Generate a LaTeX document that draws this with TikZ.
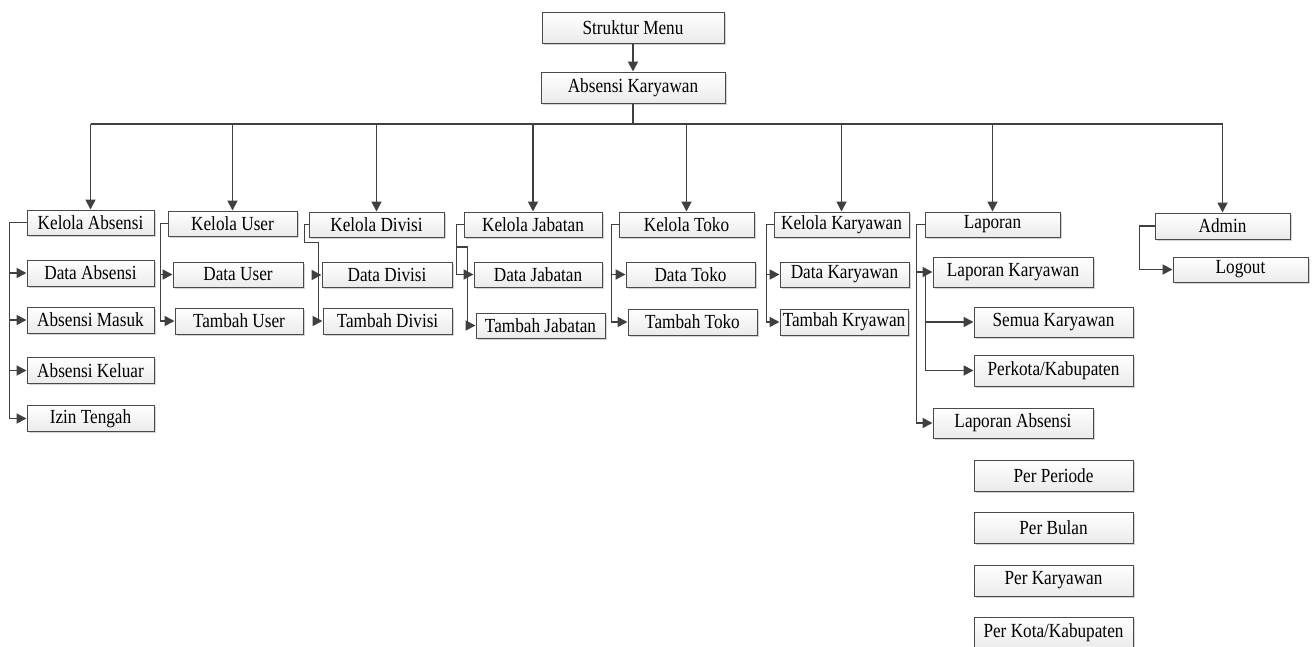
\documentclass[tikz,border=0pt]{standalone}
\usepackage{fontspec}
\setmainfont[FakeStretch=0.86]{Liberation Serif}
\usetikzlibrary{arrows.meta,shadows}
\definecolor{ln}{HTML}{404040}
\definecolor{bd}{HTML}{4a4a4a}
\tikzset{
  box/.style={draw=bd, line width=1pt, top color=white, bottom color=gray!16,
    drop shadow={shadow xshift=1.5pt, shadow yshift=-1.5pt, opacity=0.35},
    inner sep=0pt, minimum height=25pt, font=\fontsize{20}{23}\selectfont},
  conn/.style={draw=ln, line width=1.8pt},
  arr/.style={conn, -{Triangle[length=10pt,width=10pt]}},
}
\begin{document}
\begin{tikzpicture}[x=1pt,y=-1pt]
\useasboundingbox (0,0) rectangle (1315,646);
% top
\node[box, minimum width=182pt, minimum height=31pt] (st) at (633,27.5) {Struktur Menu};
\node[box, minimum width=184pt, minimum height=31pt] (ak) at (633,87.5) {Absensi Karyawan};
% level 1
\node[box, minimum width=127pt] (ka) at (90.5,222.5) {Kelola Absensi};
\node[box, minimum width=129pt] (ku) at (232.5,223.5) {Kelola User};
\node[box, minimum width=135pt] (kd) at (376.5,224.5) {Kelola Divisi};
\node[box, minimum width=138pt] (kj) at (533,224.5) {Kelola Jabatan};
\node[box, minimum width=135pt] (kt) at (686.5,224.5) {Kelola Toko};
\node[box, minimum width=135pt] (kk) at (841.5,224.5) {Kelola Karyawan};
\node[box, minimum width=135pt] (lp) at (992.5,224.5) {Laporan};
\node[box, minimum width=135pt, minimum height=26pt] (ad) at (1222.5,226) {Admin};
\node[box, minimum width=135pt] (lo) at (1240.5,269.5) {Logout};
% absensi children
\node[box, minimum width=127pt, minimum height=26pt] (da) at (90.5,273) {Data Absensi};
\node[box, minimum width=127pt, minimum height=26pt] (am) at (90.5,320) {Absensi Masuk};
\node[box, minimum width=127pt, minimum height=26pt] (akl) at (90.5,370.5) {Absensi Keluar};
\node[box, minimum width=127pt, minimum height=26pt] (it) at (90.5,418.5) {Izin Tengah};
% user
\node[box, minimum width=130pt] (du) at (238,274.5) {Data User};
\node[box, minimum width=128pt, minimum height=26pt] (tu) at (239,321) {Tambah User};
% divisi
\node[box, minimum width=130pt] (dd) at (387,275) {Data Divisi};
\node[box, minimum width=129pt, minimum height=26pt] (td) at (387.5,321) {Tambah Divisi};
% jabatan
\node[box, minimum width=128pt] (dj) at (538,274.5) {Data Jabatan};
\node[box, minimum width=129pt] (tj) at (540.5,325.5) {Tambah Jabatan};
% toko
\node[box, minimum width=129pt] (dt) at (690.5,274.5) {Data Toko};
\node[box, minimum width=129pt, minimum height=26pt] (tt) at (692.5,322) {Tambah Toko};
% karyawan
\node[box, minimum width=129pt] (dk) at (844.5,274.5) {Data Karyawan};
\node[box, minimum width=128pt, minimum height=26pt] (tk) at (844,322) {Tambah Kryawan};
% laporan
\node[box, minimum width=160pt, minimum height=30pt] (lk) at (1013,272) {Laporan Karyawan};
\node[box, minimum width=159pt, minimum height=30pt] (sk) at (1053.5,322) {Semua Karyawan};
\node[box, minimum width=159pt, minimum height=31pt] (pk) at (1053.5,370.5) {Perkota/Kabupaten};
\node[box, minimum width=160pt, minimum height=30pt] (la) at (1013,423) {Laporan Absensi};
\node[box, minimum width=159pt, minimum height=31pt] (pp) at (1053.5,475.5) {Per Periode};
\node[box, minimum width=159pt, minimum height=31pt] (pb) at (1053.5,527.5) {Per Bulan};
\node[box, minimum width=159pt, minimum height=31pt] (pkr) at (1053.5,580.5) {Per Karyawan};
\node[box, minimum width=159pt, minimum height=31pt] (pkk) at (1053.5,632.5) {Per Kota/Kabupaten};
% top connectors
\coordinate (bus) at (633,124);
\draw[arr] (st) -- (ak);
\draw[conn] (ak.south) -- (bus);
\draw[conn] (ka.north |- bus) -- (ad.north |- bus);
\foreach \n in {ka,ku,kd,kj,kt,kk,lp,ad}{
  \draw[arr] (\n.north |- bus) -- (\n.north);
}
% kelola absensi
\foreach \c in {da,am,akl,it}{
  \draw[arr] (ka.west) -- ++(-17,0) |- (\c.west);
}
% user
\foreach \c in {du,tu}{
  \draw[arr] (ku.west) -- ++(-7,0) |- (\c.west);
}
% divisi
\foreach \c in {dd,td}{
  \draw[arr] (kd.west) -- ++(-4,0) -- ++(0,18) -- ++(14,0) |- (\c.west);
}
% jabatan
\draw[arr] (kj.west) -- ++(-7,0) |- (dj.west);
\draw[arr] (kj.west) -- ++(-7,0) -- ++(0,22.5) -- ++(11,0) |- (tj.west);
% toko
\foreach \c in {dt,tt}{
  \draw[arr] (kt.west) -- ++(-7,0) |- (\c.west);
}
% karyawan
\foreach \c in {dk,tk}{
  \draw[arr] (kk.west) -- ++(-7,0) |- (\c.west);
}
% laporan
\foreach \c in {lk,la}{
  \draw[arr] (lp.west) -- ++(-8,0) |- (\c.west);
}
\coordinate (lkb) at ([xshift=-7pt]lk.west);
\foreach \c in {sk,pk}{
  \draw[arr] (lkb) |- (\c.west);
}
% admin
\draw[arr] (ad.west) -- ++(-15,0) |- (lo.west);
\end{tikzpicture}
\end{document}
